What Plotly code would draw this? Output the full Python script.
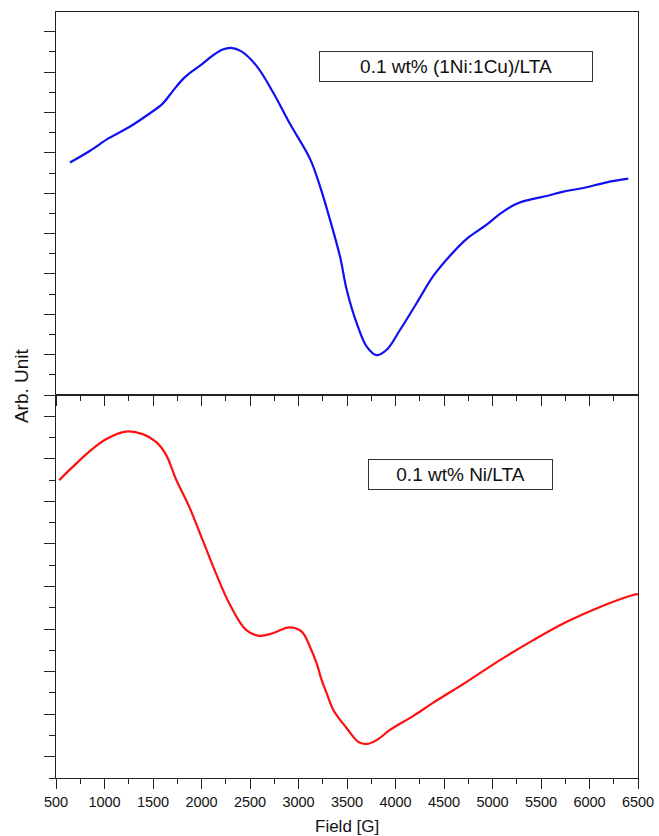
import plotly.graph_objects as go

# Top panel: 0.1 wt% (1Ni:1Cu)/LTA (blue)
field_cu = [644, 843, 1049, 1256, 1450, 1600, 1703, 1806, 1909, 2012, 2115, 2219, 2304, 2407,
            2569, 2740, 2912, 3119, 3222, 3325, 3428, 3497, 3600, 3703, 3806, 3909, 4046,
            4219, 4390, 4562, 4734, 4940, 5077, 5249, 5421, 5559, 5730, 5936, 6177, 6400]
signal_cu = [5.76, 6.04, 6.37, 6.64, 6.95, 7.22, 7.53, 7.82, 8.03, 8.21, 8.41, 8.56, 8.60, 8.52,
             8.15, 7.49, 6.72, 5.85, 5.17, 4.34, 3.43, 2.61, 1.78, 1.20, 0.99, 1.12, 1.61,
             2.28, 2.95, 3.45, 3.87, 4.22, 4.49, 4.74, 4.86, 4.93, 5.04, 5.13, 5.27, 5.36]

# Bottom panel: 0.1 wt% Ni/LTA (red)
field_ni = [534, 672, 843, 1015, 1222, 1394, 1531, 1634, 1737, 1874, 2012, 2149, 2287, 2459,
            2596, 2734, 2905, 3033, 3119, 3188, 3239, 3291, 3359, 3497, 3616, 3703, 3806,
            3943, 4184, 4390, 4734, 5077, 5421, 5765, 6108, 6451, 6500]
signal_ni = [7.50, 7.81, 8.17, 8.46, 8.64, 8.58, 8.40, 8.10, 7.52, 6.87, 6.09, 5.31, 4.60, 3.98,
             3.84, 3.90, 4.04, 3.94, 3.58, 3.19, 2.80, 2.49, 2.10, 1.67, 1.35, 1.30, 1.39,
             1.63, 1.96, 2.27, 2.76, 3.27, 3.74, 4.17, 4.52, 4.80, 4.82]

label_cu = "0.1 wt% (1Ni:1Cu)/LTA"
label_ni = "0.1 wt% Ni/LTA"
x_title = "Field [G]"
y_title = "Arb. Unit"

FONT = "Liberation Sans, Arial, sans-serif"
AX = "#222222"

fig = go.Figure()
fig.add_trace(go.Scatter(x=field_cu, y=signal_cu, mode="lines",
                         line=dict(color="#1010f0", width=2.2, shape="spline", smoothing=1.0),
                         xaxis="x2", yaxis="y2", showlegend=False))
fig.add_trace(go.Scatter(x=field_ni, y=signal_ni, mode="lines",
                         line=dict(color="#ff1010", width=2.2, shape="spline", smoothing=1.0),
                         xaxis="x", yaxis="y", showlegend=False))

common_x = dict(range=[500, 6500], tickmode="linear", tick0=500, dtick=500, ticks="outside", ticklen=10,
                tickwidth=1.2, tickcolor=AX, showline=True, linecolor=AX, linewidth=1.2, mirror=True,
                showgrid=False, zeroline=False, automargin=False,
                minor=dict(ticks="outside", ticklen=5, tickwidth=1.2, tickcolor=AX, dtick=250, tick0=500, showgrid=False))
common_y = dict(tickmode="linear", dtick=1, ticks="outside", ticklen=11, tickwidth=1.2, tickcolor=AX,
                showline=True, linecolor=AX, linewidth=1.2, mirror=True, showgrid=False, zeroline=False,
                showticklabels=False, automargin=False,
                minor=dict(ticks="outside", ticklen=6, tickwidth=1.2, tickcolor=AX, dtick=0.5, showgrid=False))

fig.update_layout(
    width=659, height=836,
    margin=dict(l=56, r=21, t=12, b=58, autoexpand=False),
    paper_bgcolor="white", plot_bgcolor="white",
    font=dict(family=FONT, color="#111111", size=14),
    xaxis=dict(**common_x, domain=[0, 1], anchor="y", showticklabels=True,
               tickfont=dict(size=14.5, family=FONT, color="#111111")),
    yaxis=dict(**common_y, domain=[0, 0.5], range=[0.5, 9.5], tick0=0, anchor="x"),
    xaxis2=dict(**common_x, domain=[0, 1], anchor="y2", showticklabels=False, matches="x"),
    yaxis2=dict(**common_y, domain=[0.5, 1], range=[0, 9.49], tick0=0, anchor="x2"),
    annotations=[
        dict(text=label_cu, xref="paper", yref="paper", x=0.687, y=0.929, xanchor="center", yanchor="middle",
             showarrow=False, font=dict(size=19, family=FONT, color="#111111"),
             bordercolor="#333333", borderwidth=1, borderpad=2, bgcolor="white", width=268, height=25),
        dict(text=label_ni, xref="paper", yref="paper", x=0.695, y=0.3956, xanchor="center", yanchor="middle",
             showarrow=False, font=dict(size=19, family=FONT, color="#111111"),
             bordercolor="#333333", borderwidth=1, borderpad=2, bgcolor="white", width=179, height=25),
        dict(text=x_title, xref="paper", yref="paper", x=0.5, y=-0.0627, xanchor="center", yanchor="middle",
             showarrow=False, font=dict(size=17, family=FONT, color="#111111")),
        dict(text=y_title, xref="paper", yref="paper", x=-0.058, y=0.512, xanchor="center", yanchor="middle",
             textangle=-90, showarrow=False, font=dict(size=19, family=FONT, color="#111111")),
    ],
)

fig.write_html("out.html")
